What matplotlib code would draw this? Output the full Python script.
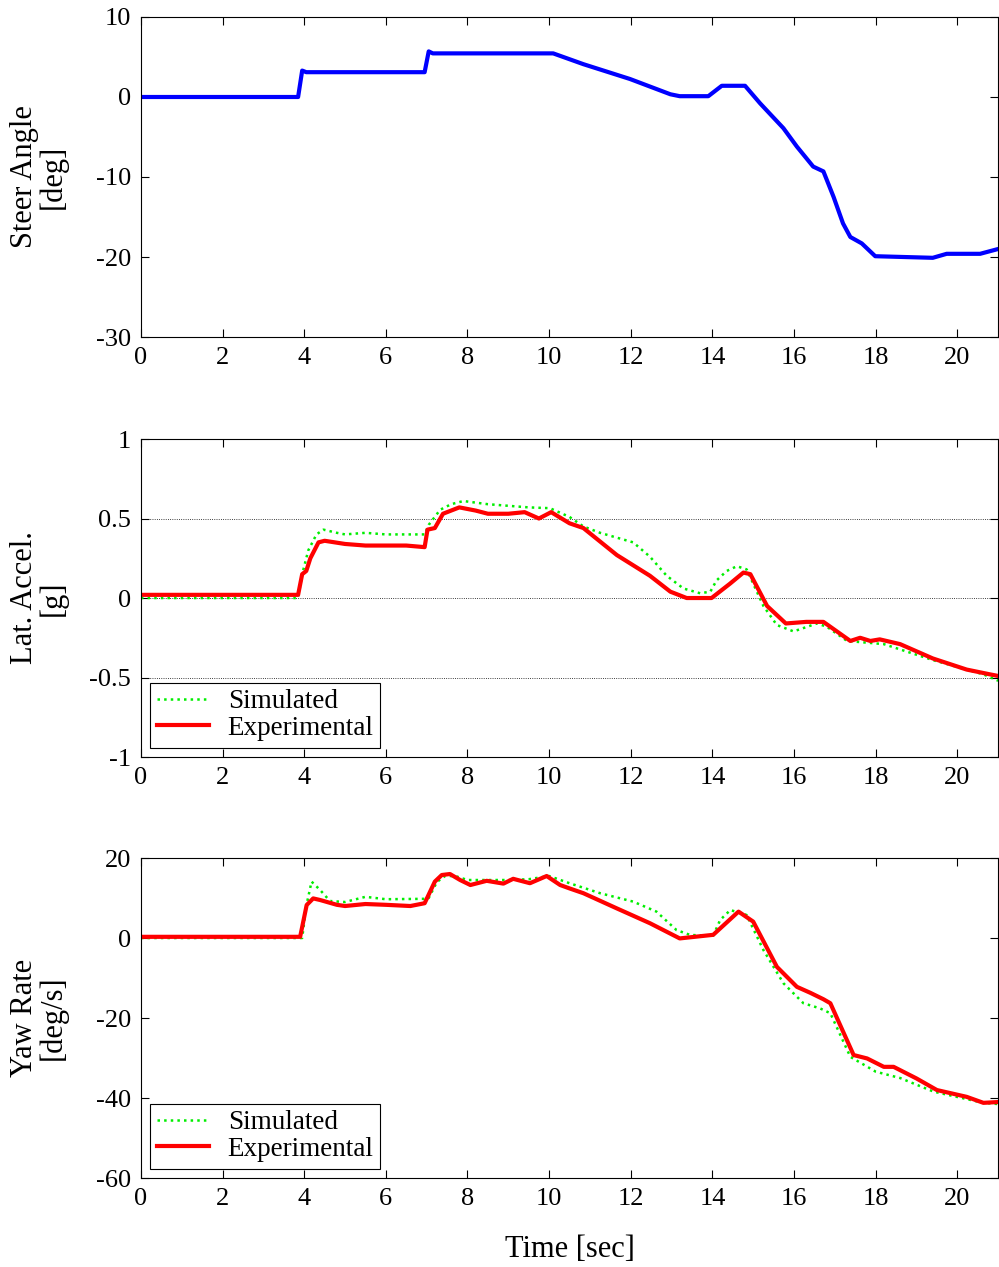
import matplotlib
matplotlib.use('Agg')
import matplotlib.pyplot as plt

plt.rcParams['font.family'] = ['Liberation Serif', 'DejaVu Serif']
plt.rcParams['axes.unicode_minus'] = False

# steer angle (deg)
t_steer = [0, 3.85, 3.95, 4.05, 6.95, 7.05, 7.15, 10.1, 10.84, 11.98, 12.97, 13.2,
           13.9, 14.23, 14.8, 15.17, 15.74, 16.07, 16.47, 16.72, 16.97, 17.2, 17.38,
           17.66, 17.99, 19.4, 19.74, 20.56, 21.0]
steer = [0, 0, 3.3, 3.1, 3.1, 5.7, 5.45, 5.45, 4.1, 2.25, 0.34, 0.1,
         0.1, 1.4, 1.4, -0.8, -3.9, -6.2, -8.7, -9.3, -12.5, -15.8, -17.5,
         -18.3, -19.9, -20.1, -19.6, -19.6, -19.0]

# lateral acceleration (g)
t_lat_exp = [0, 3.85, 3.95, 4.05, 4.15, 4.35, 4.5, 5.0, 5.5, 6.0, 6.5, 6.95, 7.02,
             7.2, 7.4, 7.8, 8.2, 8.5, 9.0, 9.4, 9.75, 10.05, 10.5, 10.84, 11.66,
             12.47, 12.97, 13.37, 13.98, 14.43, 14.76, 14.93, 15.34, 15.8, 16.3,
             16.72, 17.38, 17.62, 17.87, 18.1, 18.6, 19.4, 20.23, 20.8, 21.0]
lat_exp = [0.02, 0.02, 0.15, 0.17, 0.25, 0.35, 0.36, 0.34, 0.33, 0.33, 0.33, 0.32, 0.43,
           0.44, 0.53, 0.57, 0.55, 0.53, 0.53, 0.54, 0.50, 0.54, 0.47, 0.44, 0.27,
           0.14, 0.04, 0.0, 0.0, 0.09, 0.16, 0.15, -0.05, -0.16, -0.15,
           -0.15, -0.27, -0.25, -0.27, -0.26, -0.29, -0.38, -0.45, -0.48, -0.49]
t_lat_sim = [0, 3.85, 3.95, 4.1, 4.3, 4.47, 4.8, 5.0, 5.5, 6.0, 6.95, 7.05, 7.33,
             7.6, 7.9, 8.5, 9.5, 10.02, 10.5, 10.84, 11.25, 12.06, 12.47, 12.88,
             13.29, 13.7, 13.95, 14.1, 14.35, 14.6, 14.84, 15.25, 15.58, 15.99,
             16.56, 16.8, 17.3, 18.2, 19.4, 20.64, 21.0]
lat_sim = [0.0, 0.0, 0.15, 0.3, 0.4, 0.43, 0.41, 0.40, 0.41, 0.40, 0.40, 0.46, 0.555,
           0.59, 0.61, 0.59, 0.57, 0.565, 0.51, 0.45, 0.41, 0.35, 0.26, 0.14,
           0.06, 0.03, 0.04, 0.11, 0.17, 0.2, 0.18, -0.05, -0.17, -0.21,
           -0.16, -0.18, -0.27, -0.29, -0.39, -0.48, -0.52]

# yaw rate (deg/s)
t_yaw_exp = [0, 3.9, 4.06, 4.22, 4.39, 4.8, 5.0, 5.5, 6.0, 6.6, 6.95, 7.2, 7.37,
             7.57, 7.82, 8.07, 8.47, 8.88, 9.12, 9.53, 9.94, 10.27, 10.5, 10.84,
             11.66, 12.47, 13.2, 14.02, 14.64, 15.0, 15.58, 16.07, 16.4, 16.72,
             16.89, 17.46, 17.79, 18.2, 18.44, 19.0, 19.5, 20.23, 20.64, 21.0]
yaw_exp = [0.3, 0.3, 8.25, 9.9, 9.5, 8.3, 8.0, 8.5, 8.3, 8.0, 8.7, 14.1, 15.75,
           16.0, 14.5, 13.25, 14.3, 13.6, 14.8, 13.7, 15.5, 13.25, 12.4, 11.2,
           7.4, 3.7, -0.1, 0.8, 6.6, 4.1, -7.2, -12.2, -13.7, -15.3,
           -16.3, -29.25, -30.1, -32.2, -32.2, -35.1, -38.0, -39.7, -41.2, -41.0]
t_yaw_sim = [0, 3.95, 4.05, 4.18, 4.39, 4.63, 5.0, 5.5, 6.0, 6.95, 7.05, 7.25, 7.45,
             7.7, 8.0, 9.0, 9.5, 10.0, 10.5, 11.25, 12.06, 12.63, 13.12, 13.46,
             14.02, 14.19, 14.44, 14.84, 15.25, 15.74, 16.23, 16.64, 16.89, 17.38,
             18.0, 18.6, 19.42, 20.64, 21.0]
yaw_sim = [0.0, 0.0, 8.0, 14.1, 12.0, 9.25, 9.0, 10.3, 9.7, 9.8, 10.0, 14.0, 15.5,
           15.5, 14.5, 14.5, 14.7, 15.5, 13.7, 11.2, 9.1, 6.6, 2.0, 0.75,
           0.6, 4.5, 7.0, 5.75, -3.0, -11.3, -16.3, -17.6, -18.8, -29.7,
           -33.4, -35.0, -38.4, -41.2, -41.5]

fig = plt.figure(figsize=(9.99, 12.67), dpi=100)
left, width = 0.1411, 0.858
ax1 = fig.add_axes([left, 0.734, width, 0.2526])
ax2 = fig.add_axes([left, 0.4025, width, 0.251])
ax3 = fig.add_axes([left, 0.0702, width, 0.2526])

TICK = 19
LAB = 22

def style(ax, ylim, yticks, ylabel):
    ax.set_xlim(0, 21)
    ax.set_ylim(*ylim)
    ax.set_xticks(range(0, 21, 2))
    ax.set_yticks(yticks)
    ax.tick_params(direction='in', length=6, width=0.8, top=True, right=True,
                   labelsize=TICK, pad=7)
    for s in ax.spines.values():
        s.set_linewidth(0.8)
    ax.set_ylabel(ylabel, fontsize=LAB, linespacing=1.0)
    ax.yaxis.set_label_coords(-0.085, 0.5)

ax1.plot(t_steer, steer, color='blue', lw=3)
style(ax1, (-30, 10), [-30, -20, -10, 0, 10], 'Steer Angle\n[deg]')

ax2.plot(t_lat_sim, lat_sim, color='#00ee00', lw=1.8, ls=':', label='Simulated')
ax2.plot(t_lat_exp, lat_exp, color='red', lw=3, label='Experimental')
style(ax2, (-1, 1), [-1, -0.5, 0, 0.5, 1], 'Lat. Accel.\n[g]')
ax2.set_yticklabels(['-1', '-0.5', '0', '0.5', '1'])
ax2.yaxis.grid(True, ls=':', color='black', lw=0.6)

ax3.plot(t_yaw_sim, yaw_sim, color='#00ee00', lw=1.8, ls=':', label='Simulated')
ax3.plot(t_yaw_exp, yaw_exp, color='red', lw=3, label='Experimental')
style(ax3, (-60, 20), [-60, -40, -20, 0, 20], 'Yaw Rate\n[deg/s]')
ax3.set_xlabel('Time [sec]', fontsize=LAB, labelpad=18)

for ax in (ax2, ax3):
    leg = ax.legend(loc='lower left', fontsize=19.5, fancybox=False, framealpha=1,
                    edgecolor='black', borderaxespad=0.35, handlelength=1.9,
                    handletextpad=0.7, borderpad=0.25, labelspacing=0.05)
    leg.get_frame().set_linewidth(0.8)

fig.savefig('out.png', dpi=100)
